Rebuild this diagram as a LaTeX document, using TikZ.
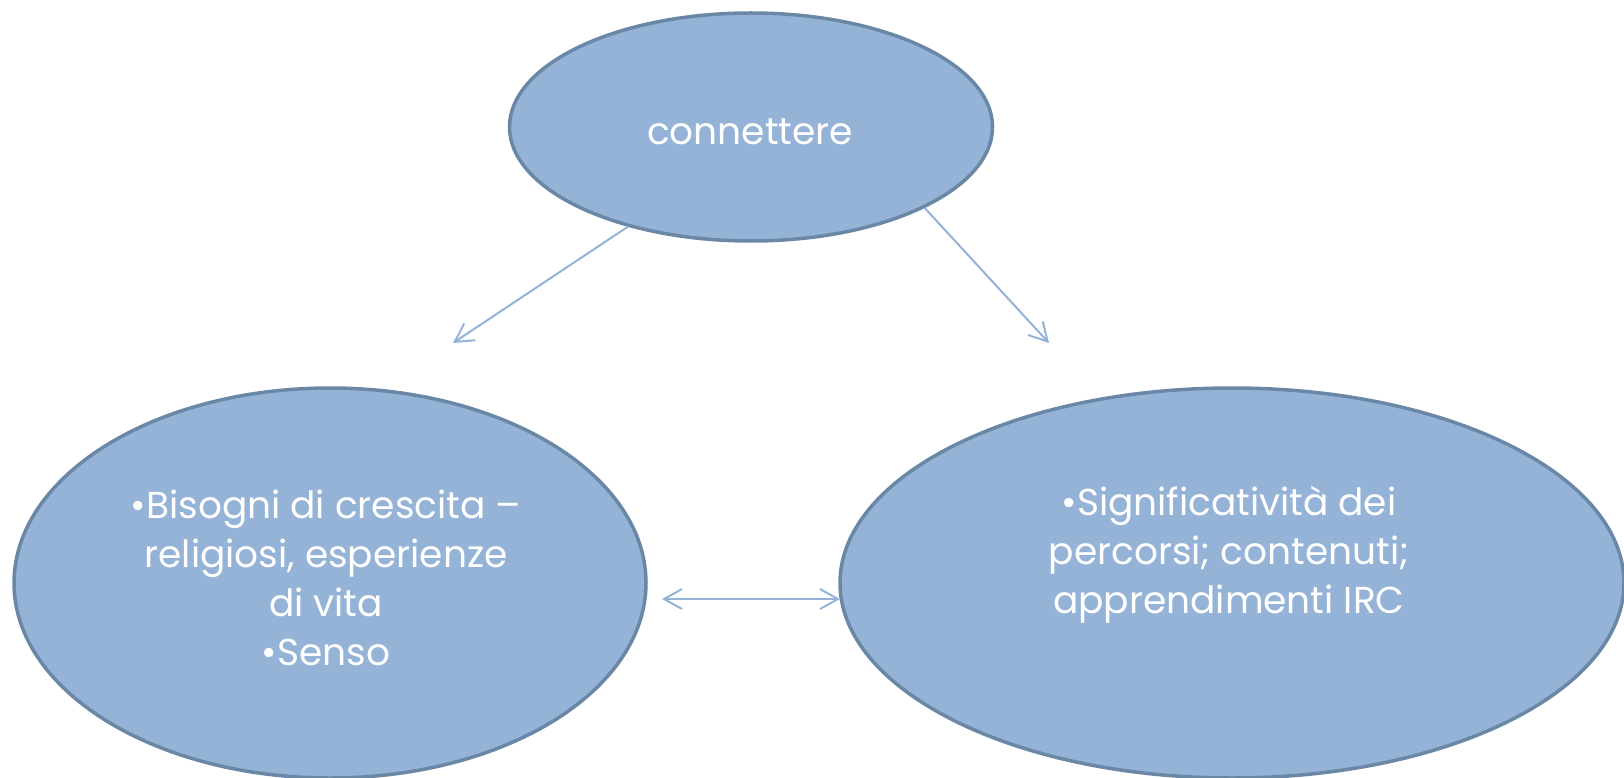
\documentclass[tikz,border=0pt]{standalone}
\usepackage{fontspec}
\setmainfont{Poppins}
\usetikzlibrary{shapes.geometric,arrows.meta}
\definecolor{ovalfill}{HTML}{95B3D7}
\definecolor{ovaledge}{HTML}{6A88A6}
\begin{document}
\begin{tikzpicture}[x=1pt,y=-1pt,
  oval/.style={ellipse,draw=ovaledge,fill=ovalfill,line width=3.5pt,inner sep=0pt},
  txt/.style={text=white,align=center,inner sep=0pt,font=\fontsize{37.5}{49}\selectfont},
  link/.style={draw=ovalfill,line width=2pt,{Straight Barb[length=18pt,width=20pt]}-{Straight Barb[length=18pt,width=20pt]}},
  tip/.style={draw=ovalfill,line width=2pt,-{Straight Barb[length=18pt,width=20pt]}}]
  \useasboundingbox (0,0) rectangle (1624,778);
  % three ovals
  \node[oval,minimum width=483pt,minimum height=228pt] (conn) at (751,127) {};
  \node[oval,minimum width=632pt,minimum height=390pt] (needs) at (330,583) {};
  \node[oval,minimum width=784pt,minimum height=390pt] (paths) at (1232,583) {};
  \node[txt] (conntext) at (750,132) {connettere};
  \node[txt] (needstext) at (326,578) {•Bisogni di crescita –\\religiosi, esperienze\\di vita\\•Senso};
  \node[txt] (pathstext) at (1229,555) {•Significatività dei\\percorsi; contenuti;\\apprendimenti IRC};
  % arrows
  \coordinate (lefttip) at (453,343);
  \coordinate (righttip) at (1049,343);
  \coordinate (midleft) at (662,599);
  \coordinate (midright) at (840,599);
  \draw[tip] (conn.-141.9) -- (lefttip);
  \draw[tip] (conn.-25.2) -- (righttip);
  \draw[link] (midleft) -- (midright);
\end{tikzpicture}
\end{document}
